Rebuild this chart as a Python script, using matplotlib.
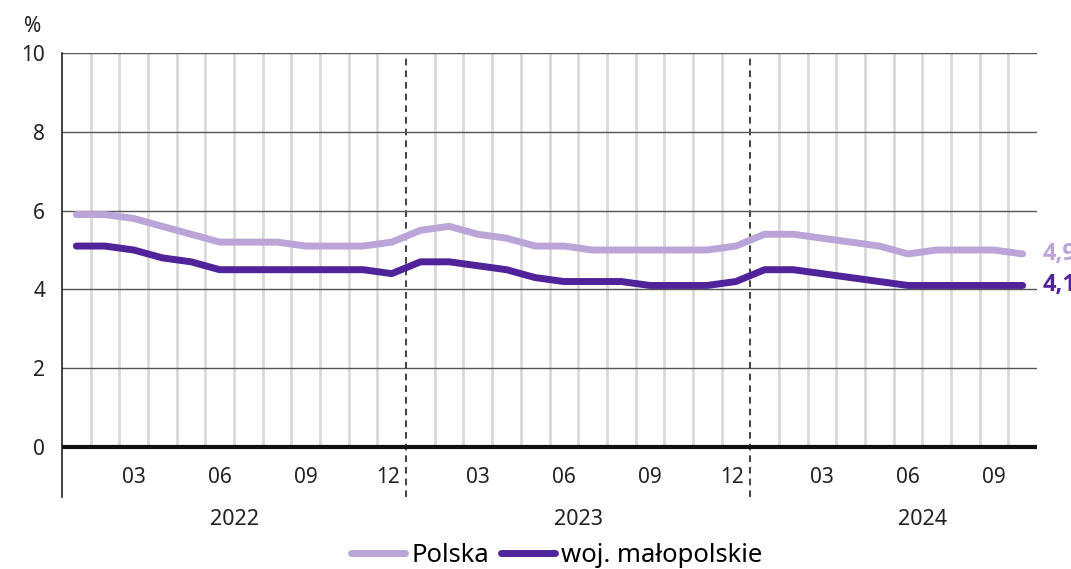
import numpy as np
import matplotlib.pyplot as plt
from matplotlib.lines import Line2D

# stopa bezrobocia, miesięcznie 2022-01 .. 2024-10
polska = [5.9, 5.9, 5.8, 5.6, 5.4, 5.2, 5.2, 5.2, 5.1, 5.1, 5.1, 5.2,
          5.5, 5.6, 5.4, 5.3, 5.1, 5.1, 5.0, 5.0, 5.0, 5.0, 5.0, 5.1,
          5.4, 5.4, 5.3, 5.2, 5.1, 4.9, 5.0, 5.0, 5.0, 4.9]
malopolskie = [5.1, 5.1, 5.0, 4.8, 4.7, 4.5, 4.5, 4.5, 4.5, 4.5, 4.5, 4.4,
               4.7, 4.7, 4.6, 4.5, 4.3, 4.2, 4.2, 4.2, 4.1, 4.1, 4.1, 4.2,
               4.5, 4.5, 4.4, 4.3, 4.2, 4.1, 4.1, 4.1, 4.1, 4.1]
month_ticks = ["03", "06", "09", "12", "03", "06", "09", "12", "03", "06", "09"]
month_tick_idx = [2, 5, 8, 11, 14, 17, 20, 23, 26, 29, 32]
years = ["2022", "2023", "2024"]
y_ticks = [0, 2, 4, 6, 8, 10]

c_pl = "#bba5d8"
c_mp = "#51239b"

plt.rcParams['font.family'] = ['Noto Sans', 'DejaVu Sans']

fig = plt.figure(figsize=(10.71, 5.69), dpi=100)
ymin = -50 / 39.4
ax = fig.add_axes([62 / 1071, 1 - 497 / 569, (1037 - 62) / 1071, (497 - 53) / 569])
n = len(polska)
x = np.arange(n) + 0.5

# siatka
for b in range(1, n):
    if b % 12 == 0:
        ax.plot([b, b], [ymin, 10], color="#222222", lw=1.2, ls=(0, (4, 3)), zorder=2)
    else:
        ax.plot([b, b], [0, 10], color="#d9d9d9", lw=2, zorder=1)
for yv in y_ticks:
    if yv == 0:
        ax.axhline(0, color="#111111", lw=3, zorder=3)
    else:
        ax.axhline(yv, color="#555555", lw=1, zorder=2)

ax.plot(x, polska, color=c_pl, lw=5, solid_capstyle="round", solid_joinstyle="round", zorder=4)
ax.plot(x, malopolskie, color=c_mp, lw=5, solid_capstyle="round", solid_joinstyle="round", zorder=5)

# etykiety końcowe (w oryginale ucięte przy prawej krawędzi)
ax.text(n + 0.18, polska[-1], "4,9", color=c_pl, fontsize=17, fontweight="bold",
        family=["Open Sans", "DejaVu Sans"], va="center", ha="left", clip_on=False)
ax.text(n + 0.18, malopolskie[-1], "4,1", color=c_mp, fontsize=17, fontweight="bold",
        family=["Open Sans", "DejaVu Sans"], va="center", ha="left", clip_on=False)

ax.set_xlim(0, n)
ax.set_ylim(ymin, 10)
for s in ["top", "right", "bottom"]:
    ax.spines[s].set_visible(False)
ax.spines["left"].set_color("#222222")
ax.spines["left"].set_linewidth(1.2)
ax.set_xticks([])
ax.set_yticks(y_ticks)
ax.set_yticklabels([str(v) for v in y_ticks], fontsize=15, color="#222222")
ax.tick_params(axis="y", length=0, pad=12)

for i, lab in zip(month_tick_idx, month_ticks):
    xi = i + 0.5
    if lab == "12":
        xi = i + 0.38
    ax.text(xi, -0.77, lab, fontsize=15, color="#222222", ha="center", va="center")
for k, yr in enumerate(years):
    ax.text(12 * k + 6, -1.83, yr, fontsize=15.5, color="#222222", ha="center",
            va="center", clip_on=False)

fig.text(33 / 1071, 1 - 27 / 569, "%", fontsize=15, color="#222222", ha="center", va="center")

handles = [Line2D([], [], color=c_pl, lw=5, solid_capstyle="round"),
           Line2D([], [], color=c_mp, lw=5, solid_capstyle="round")]
fig.legend(handles, ["Polska", "woj. małopolskie"], loc="center", ncol=2,
           bbox_to_anchor=(557 / 1071, 1 - 555 / 569), frameon=False, fontsize=18.5,
           handlelength=2.1, handletextpad=0.25, columnspacing=0.45, borderpad=0)

fig.savefig("out.png", dpi=100)
